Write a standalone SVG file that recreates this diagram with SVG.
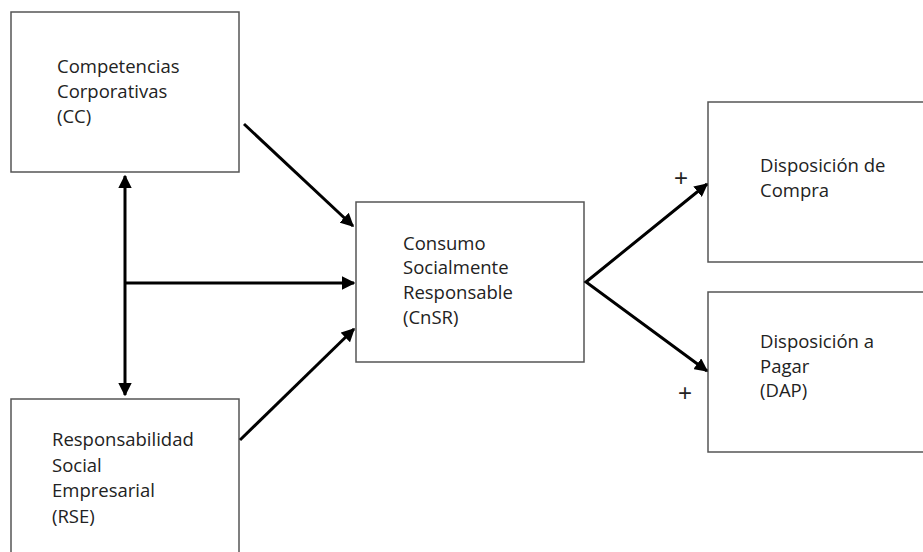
<svg xmlns="http://www.w3.org/2000/svg" width="923" height="552" viewBox="0 0 923 552">
<style>
.box{fill:#fff;stroke:#555;stroke-width:1.5}
.t{font-family:"Open Sans","Liberation Sans",sans-serif;font-size:18.5px;fill:#222}
.p{font-family:"Liberation Sans",sans-serif;font-size:24px;fill:#222}
.c{stroke:#000;stroke-width:3;fill:none}
</style>
<defs>
<marker id="ah" viewBox="0 0 10 10" refX="9" refY="5" markerWidth="4.5" markerHeight="4.5" orient="auto-start-reverse" markerUnits="strokeWidth">
<path d="M0,0 L10,5 L0,10 z" fill="#000"/>
</marker>
</defs>
<rect width="923" height="552" fill="#fff"/>
<g id="cc">
<rect class="box" x="11" y="12" width="228" height="160"/>
<text class="t"><tspan x="57" y="73">Competencias</tspan><tspan x="57" y="98">Corporativas</tspan><tspan x="57" y="123">(CC)</tspan></text>
</g>
<g id="rse">
<rect class="box" x="11" y="399" width="228" height="170"/>
<text class="t"><tspan x="52" y="446">Responsabilidad</tspan><tspan x="52" y="472">Social</tspan><tspan x="52" y="497">Empresarial</tspan><tspan x="52" y="523">(RSE)</tspan></text>
</g>
<g id="cnsr">
<rect class="box" x="356" y="202" width="228" height="160"/>
<text class="t"><tspan x="403" y="250">Consumo</tspan><tspan x="403" y="274">Socialmente</tspan><tspan x="403" y="299">Responsable</tspan><tspan x="403" y="324">(CnSR)</tspan></text>
</g>
<g id="compra">
<rect class="box" x="708" y="102" width="230" height="160"/>
<text class="t"><tspan x="760" y="172">Disposición de</tspan><tspan x="760" y="197">Compra</tspan></text>
</g>
<g id="dap">
<rect class="box" x="708" y="292" width="230" height="160"/>
<text class="t"><tspan x="760" y="348">Disposición a</tspan><tspan x="760" y="373">Pagar</tspan><tspan x="760" y="397">(DAP)</tspan></text>
</g>
<g id="connectors">
<line class="c" x1="125" y1="176" x2="125" y2="395" marker-start="url(#ah)" marker-end="url(#ah)"/>
<line class="c" x1="125" y1="283" x2="354" y2="283" marker-end="url(#ah)"/>
<line class="c" x1="244" y1="124" x2="353" y2="226" marker-end="url(#ah)"/>
<line class="c" x1="240" y1="440" x2="354" y2="329" marker-end="url(#ah)"/>
<polyline class="c" points="707,184 586,282 707,371" marker-start="url(#ah)" marker-end="url(#ah)"/>
<text class="p" x="674" y="186">+</text>
<text class="p" x="678" y="401">+</text>
</g>
</svg>
